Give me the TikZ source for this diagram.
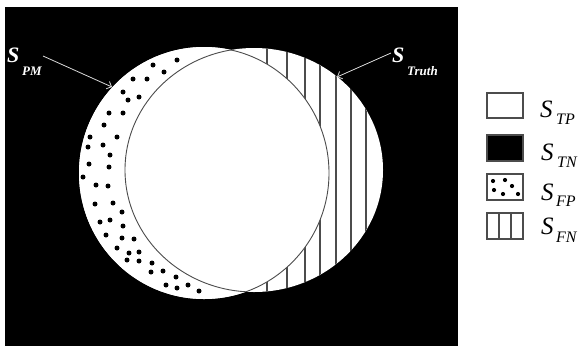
\documentclass[tikz,border=0pt]{standalone}
\usepackage{fontspec}
\setmainfont{Liberation Serif}
\usetikzlibrary{arrows.meta}
\begin{document}
\begin{tikzpicture}[x=1pt,y=-1pt,
  stripe/.style={draw=black!70,line width=1.1pt},
  arc/.style={draw=black!70,line width=0.9pt},
  dotf/.style={fill=black},
  ptr/.style={draw=white!85!black,line width=0.8pt,-{Straight Barb[length=4pt,width=8pt]}},
  biglbl/.style={text=white,inner sep=0pt,anchor=base west,font=\fontsize{22}{22}\selectfont\bfseries\itshape},
  sublbl/.style={text=white,inner sep=0pt,anchor=base west,font=\fontsize{13}{13}\selectfont\bfseries\itshape},
  legS/.style={inner sep=0pt,anchor=base west,font=\fontsize{25}{25}\selectfont\itshape},
  legsub/.style={inner sep=0pt,anchor=base west,font=\fontsize{16}{16}\selectfont\itshape},
  legbox/.style={draw=black!70,line width=1.2pt}]
\useasboundingbox (0,0) rectangle (583,346);
\fill[white] (0,0) rectangle (583,346);
\fill[black] (5,7) rectangle (458,346);
% union of the two regions
\fill[white] (204,173) ellipse [x radius=125pt,y radius=126pt];
\fill[white] (254,170) ellipse [x radius=129pt,y radius=122pt];
% stripes in Truth
\begin{scope}
  \clip (254,170) ellipse [x radius=129pt,y radius=122pt];
  \foreach \x in {267,287,305,320,336,351,366} \draw[stripe] (\x,30) -- (\x,310);
\end{scope}
\fill[white] (204,173) ellipse [x radius=125pt,y radius=126pt];
% dots in PM minus Truth
\foreach \p in {(177,60),(153,65),(164,72),(133,79),(147,79),(123,92),(128,100),(139,97),
  (109,113),(123,113),(104,125),(90,137),(117,137),(88,147),(103,145),(110,155),(89,164),
  (109,167),(83,177),(96,185),(108,186),(95,204),(113,203),(122,212),(100,222),(110,220),
  (123,226),(106,235),(122,238),(134,239),(117,248),(129,253),(139,252),(127,260),(139,261),
  (152,263),(151,272),(163,271),(176,277),(166,285),(177,288),(188,285),(199,291)}
  \fill[dotf] \p circle [radius=2.5pt];
% inner arcs
\begin{scope}
  \clip (254,170) ellipse [x radius=129pt,y radius=122pt];
  \draw[arc] (204,173) ellipse [x radius=125pt,y radius=126pt];
\end{scope}
\begin{scope}
  \clip (204,173) ellipse [x radius=125pt,y radius=126pt];
  \draw[arc] (254,170) ellipse [x radius=129pt,y radius=122pt];
\end{scope}
% labels and pointers
\node[biglbl] (spm) at (7,62) {S};
\node[sublbl] (spmsub) at (22,75) {PM};
\coordinate (pmstart) at (43,56);
\coordinate (pmtip) at (112,87);
\draw[ptr] (pmstart) -- (pmtip);
\node[biglbl] (str) at (392,62) {S};
\node[sublbl] (strsub) at (407,75) {Truth};
\coordinate (trstart) at (391,53);
\coordinate (trtip) at (337,77);
\draw[ptr] (trstart) -- (trtip);
% legend
\draw[legbox,fill=white] (487,93) rectangle (523,118);
\draw[legbox,fill=black] (487,135) rectangle (523,161);
\draw[legbox,fill=white] (487,174) rectangle (523,200);
\foreach \p in {(493,181),(505,180),(512,186),(494,190),(503,194),(518,194)}
  \fill[dotf] \p circle [radius=2.1pt];
\draw[legbox,fill=white] (487,213) rectangle (523,239);
\draw[legbox] (499,213) -- (499,239);
\draw[legbox] (511,213) -- (511,239);
\node[legS] (stp) at (540,117) {S};
\node[legsub] (stpsub) at (556,124) {TP};
\node[legS] (stn) at (541,160) {S};
\node[legsub] (stnsub) at (557,167) {TN};
\node[legS] (sfp) at (541,200) {S};
\node[legsub] (sfpsub) at (556,206) {FP};
\node[legS] (sfn) at (541,234) {S};
\node[legsub] (sfnsub) at (556,242) {FN};
\end{tikzpicture}
\end{document}
